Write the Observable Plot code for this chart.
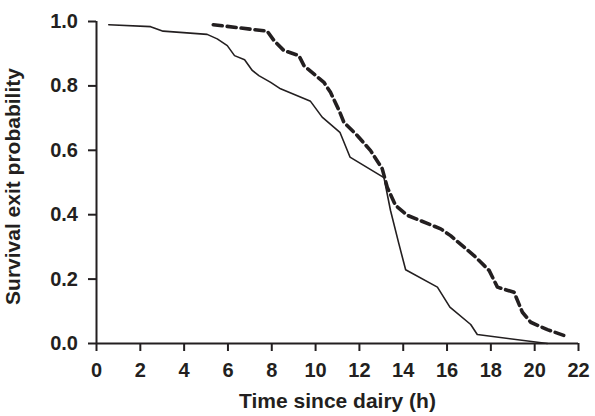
<!DOCTYPE html>
<html>
<head>
<meta charset="utf-8">
<script src="https://cdn.jsdelivr.net/npm/d3@7"></script>
<script src="https://cdn.jsdelivr.net/npm/@observablehq/plot@0.6"></script>
<style>
  html, body { margin: 0; padding: 0; background: #fff; }
  svg { display: block; }
</style>
</head>
<body>
<div id="chart"></div>
<script>
const xTicks = [0, 2, 4, 6, 8, 10, 12, 14, 16, 18, 20, 22];
const yTicks = [0, 0.2, 0.4, 0.6, 0.8, 1.0];
const xLabel = "Time since dairy (h)";
const yLabel = "Survival exit probability";

const solidX = [0.56, 2.47, 3.04, 5.05, 5.51, 5.97, 6.30, 6.76, 7.11, 7.41, 7.95, 8.40, 9.77, 10.30, 11.11, 11.57, 13.12, 13.42, 13.80, 14.11, 15.56, 16.13, 17.08, 17.38, 20.58];
const solidY = [0.990, 0.984, 0.970, 0.960, 0.946, 0.925, 0.894, 0.881, 0.848, 0.832, 0.811, 0.791, 0.752, 0.703, 0.656, 0.579, 0.515, 0.413, 0.310, 0.229, 0.175, 0.113, 0.059, 0.028, 0.0];

const dashX = [5.33, 7.79, 8.10, 8.55, 9.24, 9.47, 10.38, 10.68, 11.07, 11.29, 11.90, 12.51, 13.04, 13.27, 13.65, 14.19, 15.71, 16.16, 17.23, 17.92, 18.30, 19.06, 19.44, 19.82, 20.58, 21.34];
const dashY = [0.990, 0.970, 0.941, 0.910, 0.894, 0.863, 0.811, 0.780, 0.724, 0.687, 0.646, 0.599, 0.543, 0.485, 0.429, 0.398, 0.356, 0.335, 0.273, 0.227, 0.175, 0.159, 0.097, 0.066, 0.043, 0.025];

const solid = solidX.map((x, i) => ({x, y: solidY[i]}));
const dashed = dashX.map((x, i) => ({x, y: dashY[i]}));

const ink = "#231f20";

const chart = Plot.plot({
  width: 595,
  height: 416,
  marginLeft: 96,
  marginRight: 17,
  marginTop: 21,
  marginBottom: 73,
  style: {fontFamily: "'Liberation Sans', Arial, sans-serif", fontWeight: "bold", fontSize: "20px", color: ink, background: "#fff"},
  x: {domain: [0, 22]},
  y: {domain: [0, 1]},
  marks: [
    Plot.axisX({ticks: xTicks, tickSize: 8, tickPadding: 11, strokeWidth: 2, stroke: ink, fill: ink, fontSize: 20, fontWeight: "bold",
      tickFormat: d3.format("d"), label: null}),
    Plot.axisY({ticks: yTicks, tickSize: 8, tickPadding: 10.5, strokeWidth: 2, stroke: ink, fill: ink, fontSize: 20, fontWeight: "bold",
      tickFormat: d3.format(".1f"), label: null}),
    Plot.text([xLabel], {frameAnchor: "bottom", text: d => d, textAnchor: "middle", lineAnchor: "middle", dy: 58, fontSize: 21, fontWeight: "bold", fill: ink}),
    Plot.text([yLabel], {frameAnchor: "left", text: d => d, textAnchor: "middle", rotate: -90, lineAnchor: "middle", dx: -83.5, dy: 4, fontSize: 21, fontWeight: "bold", fill: ink}),
    Plot.ruleX([0], {stroke: ink, strokeWidth: 2}),
    Plot.ruleY([0], {stroke: ink, strokeWidth: 2}),
    Plot.line(solid, {x: "x", y: "y", stroke: ink, strokeWidth: 1.6}),
    Plot.line(dashed, {x: "x", y: "y", stroke: ink, strokeWidth: 3.6, strokeDasharray: "9,5"})
  ]
});
document.getElementById("chart").appendChild(chart);
</script>
</body>
</html>
